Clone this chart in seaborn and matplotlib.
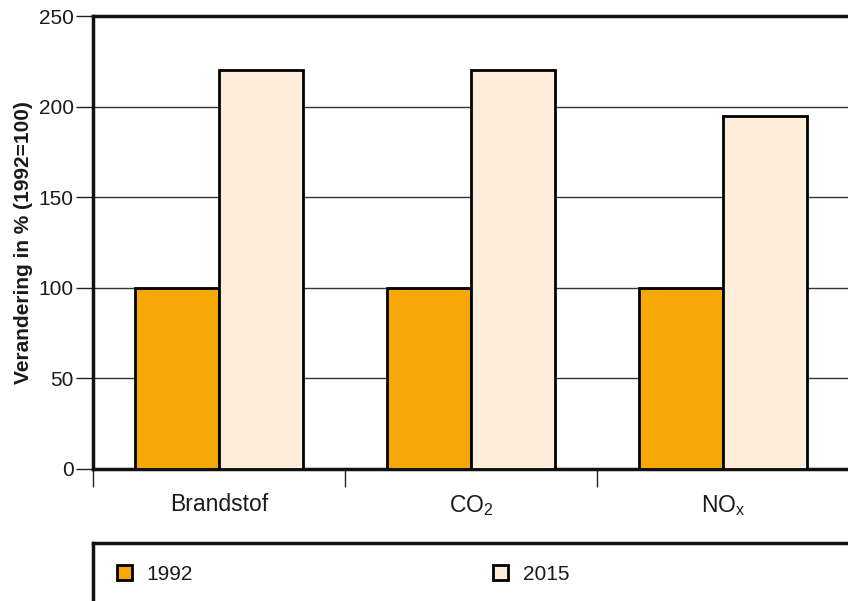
import matplotlib
matplotlib.use("Agg")
import matplotlib.pyplot as plt
import seaborn as sns
import pandas as pd

# Emission change per category, indexed to 1992 = 100
categories = ["Brandstof", "CO$_2$", "NO$_x$"]
years = ["1992", "2015"]
values_1992 = [100, 100, 100]
values_2015 = [220, 220, 195]
y_ticks = [0, 50, 100, 150, 200, 250]

colors = ["#F5A806", "#FEEDDB"]

sns.set_theme(style="white")
plt.rcParams["font.family"] = ["Liberation Sans", "DejaVu Sans"]
plt.rcParams["mathtext.default"] = "regular"

df = pd.DataFrame({
    "categorie": categories * 2,
    "jaar": [years[0]] * 3 + [years[1]] * 3,
    "waarde": values_1992 + values_2015,
})

fig = plt.figure(figsize=(8.48, 6.01), dpi=100)
ax = fig.add_axes([93 / 848, 132 / 601, 756 / 848, 453 / 601])

ax.yaxis.grid(True, color="#333333", linewidth=1.0)
ax.set_axisbelow(True)

sns.barplot(data=df, x="categorie", y="waarde", hue="jaar",
            palette=colors, edgecolor="black", linewidth=2.0,
            width=2 / 3, gap=0, saturation=1, ax=ax, zorder=3)

ax.set_xlim(-0.5, 2.5)
ax.set_ylim(0, 250)
ax.set_yticks(y_ticks)
ax.set_yticklabels([str(t) for t in y_ticks], fontsize=15, color="#1a1a1a")
ax.tick_params(axis="y", length=12, width=1.0, color="#222222", pad=2, left=True)

# category labels centred on groups, tick marks between groups
ax.set_xticks(range(len(categories)))
ax.set_xticklabels(categories, fontsize=16.5, color="#1a1a1a")
ax.tick_params(axis="x", which="major", length=0, pad=17)
ax.set_xticks([-0.5, 0.5, 1.5, 2.5], minor=True)
ax.tick_params(axis="x", which="minor", length=13, width=1.0, color="#222222",
               bottom=True, direction="out")

ax.set_xlabel("")
ax.set_ylabel("Verandering in % (1992=100)", fontsize=15, fontweight="bold",
              color="#1a1a1a", labelpad=4)

for side in ["left", "top", "bottom"]:
    ax.spines[side].set_visible(True)
    ax.spines[side].set_linewidth(2.5)
    ax.spines[side].set_color("#111111")
ax.spines["right"].set_visible(False)

handles, labels = ax.get_legend_handles_labels()
ax.get_legend().remove()

# legend panel below the chart
lax = fig.add_axes([93 / 848, -0.1, 0.95, 58 / 601 + 0.1])
lax.set_xticks([])
lax.set_yticks([])
lax.set_xlim(0, 1)
lax.set_ylim(0, 1)
for side in ["right", "bottom"]:
    lax.spines[side].set_visible(False)
for side in ["left", "top"]:
    lax.spines[side].set_visible(True)
    lax.spines[side].set_linewidth(2.5)
    lax.spines[side].set_color("#111111")

leg_kw = dict(frameon=False, fontsize=15, handlelength=0.72, handleheight=0.72,
              handletextpad=0.7, borderpad=0, borderaxespad=0, loc="center left",
              labelcolor="#1a1a1a")
leg1 = fig.legend([handles[0]], [labels[0]],
                  bbox_to_anchor=(117 / 848, 1 - 574 / 601), **leg_kw)
leg2 = fig.legend([handles[1]], [labels[1]],
                  bbox_to_anchor=(493 / 848, 1 - 574 / 601), **leg_kw)

fig.savefig("out.png", dpi=100)
